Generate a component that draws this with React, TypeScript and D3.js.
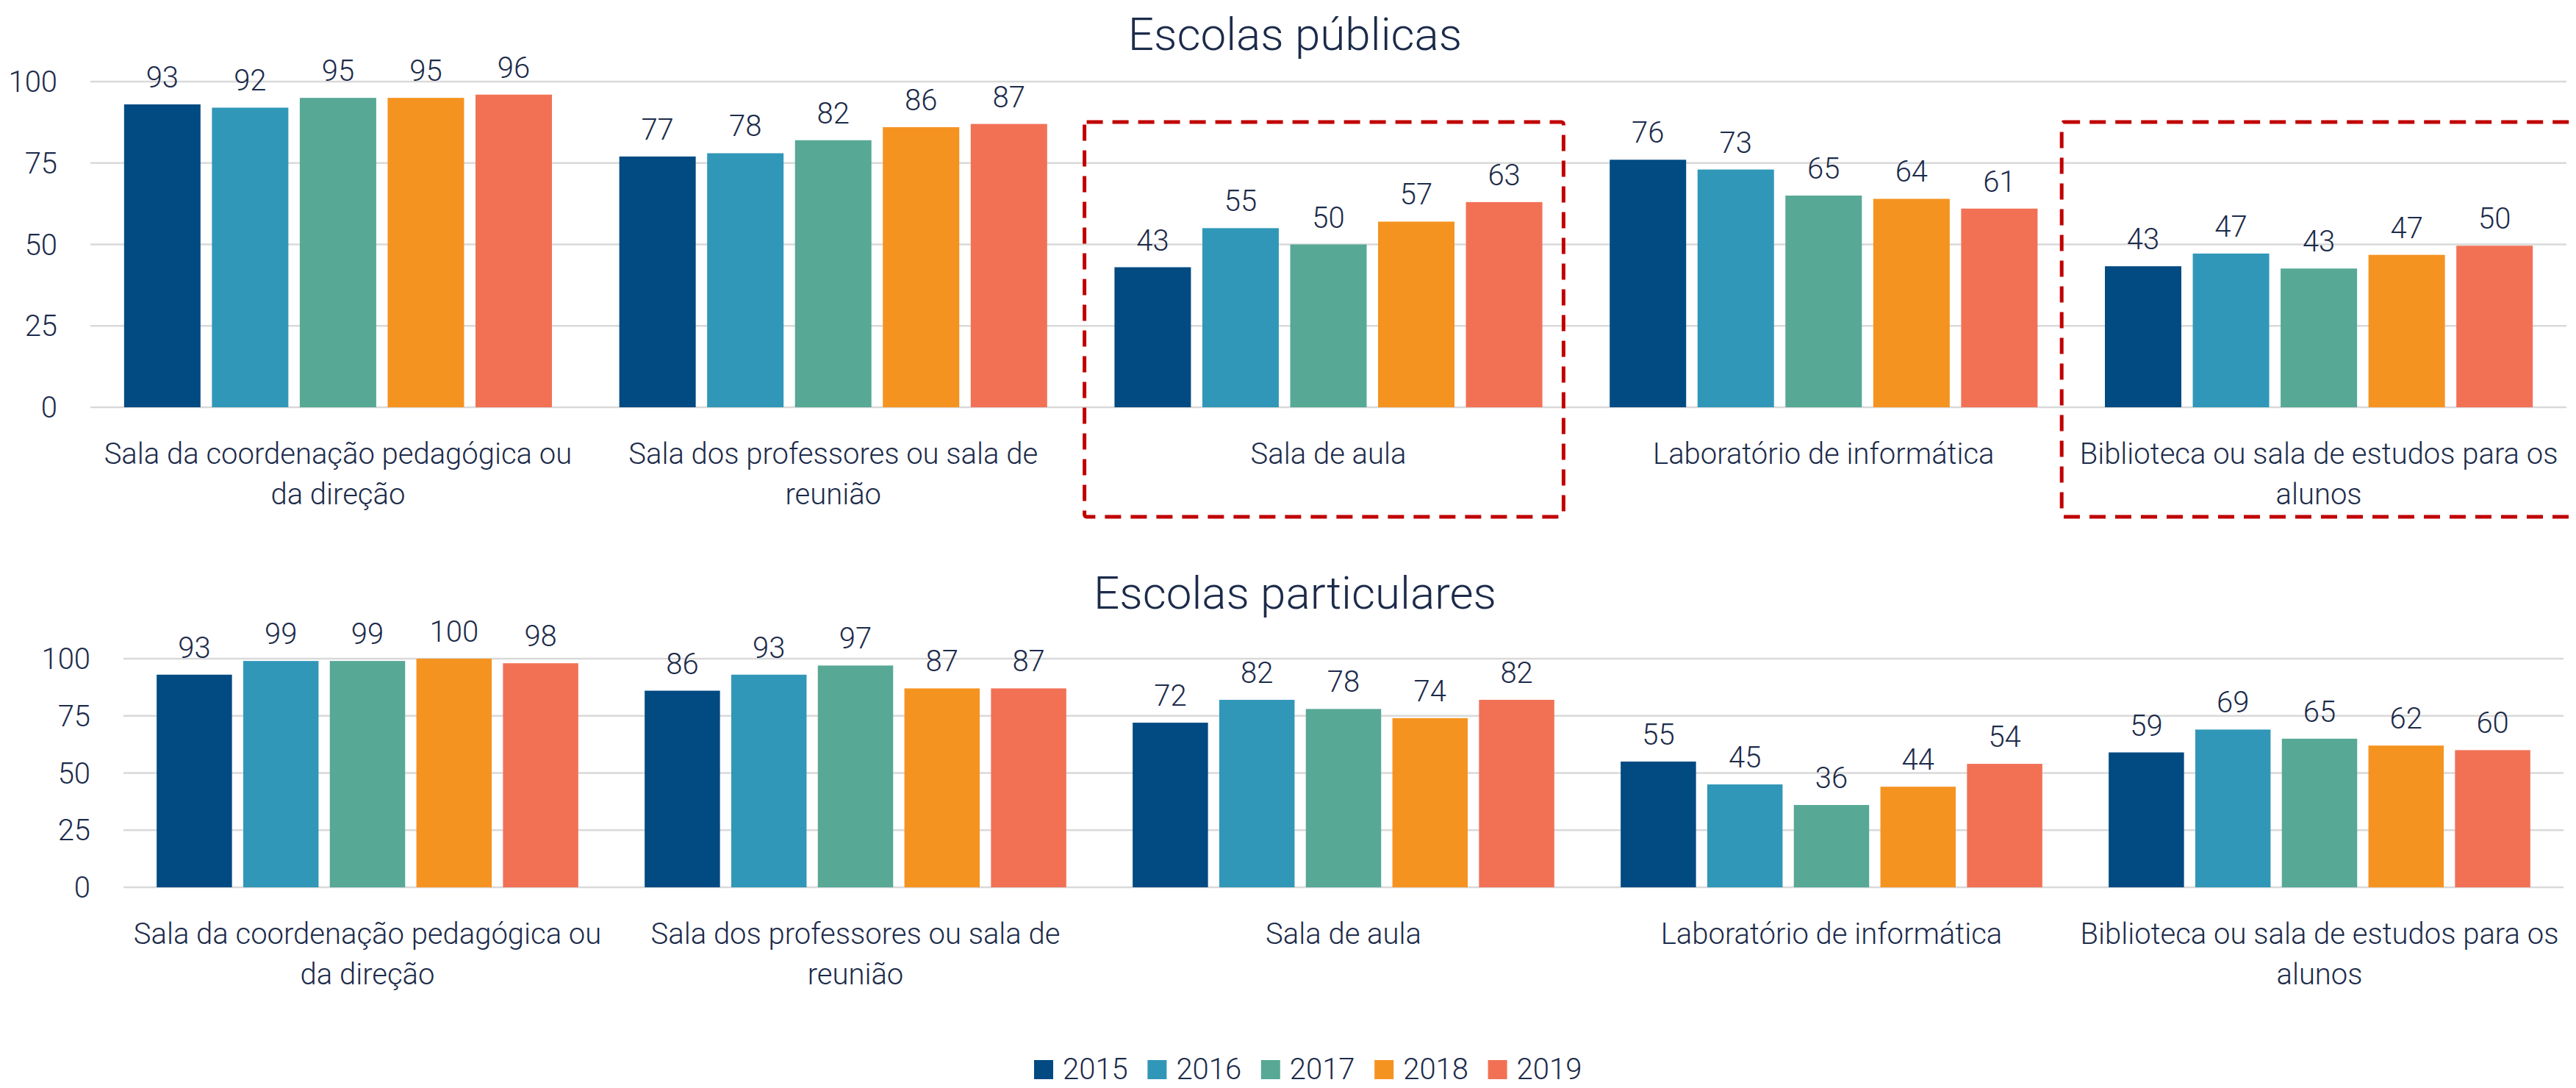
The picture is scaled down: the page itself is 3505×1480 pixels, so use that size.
import { useMemo } from "react";
import * as d3 from "d3";

const WIDTH = 3505;
const HEIGHT = 1480;
const FONT = "Roboto, 'Open Sans', sans-serif";
const TEXT_COLOR = "#1c2b4a";
const GRID_COLOR = "#d9d9d9";

const YEARS = ["2015", "2016", "2017", "2018", "2019"];
const YEAR_COLORS = ["#014a82", "#3197b8", "#57a895", "#f59320", "#f27155"];

const CATEGORIES = ["coord", "prof", "aula", "lab", "bib"];
const CATEGORY_LINES = [
    ["Sala da coordenação pedagógica ou", "da direção"],
    ["Sala dos professores ou sala de", "reunião"],
    ["Sala de aula"],
    ["Laboratório de informática"],
    ["Biblioteca ou sala de estudos para os", "alunos"],
];

// one row per category, one value per year
const PUBLICAS = [
    [93, 92, 95, 95, 96],
    [77, 78, 82, 86, 87],
    [43, 55, 50, 57, 63],
    [76, 73, 65, 64, 61],
    [43.3, 47.2, 42.6, 46.8, 49.6],
];
const PARTICULARES = [
    [93, 99, 99, 100, 98],
    [86, 93, 97, 87, 87],
    [72, 82, 78, 74, 82],
    [55, 45, 36, 44, 54],
    [59, 69, 65, 62, 60],
];

const Y_TICKS = [0, 25, 50, 75, 100];

// red dashed boxes on the first panel
const HIGHLIGHTS = [
    { cat: "aula", dx0: 5, dx1: -17 },
    { cat: "bib", dx0: -13, dx1: 40 },
];

type PanelProps = {
    title: string;
    titleY: number;
    values: number[][];
    left: number;
    right: number;
    yTop: number;
    yBottom: number;
    highlight?: boolean;
};

const Panel = ({ title, titleY, values, left, right, yTop, yBottom, highlight }: PanelProps) => {
    const x0 = useMemo(
        () => d3.scaleBand().domain(CATEGORIES).range([left, right]).padding(0),
        [left, right]
    );
    const outer = x0.bandwidth() * 0.068;
    const x1 = useMemo(
        () =>
            d3.scaleBand()
                .domain(YEARS)
                .range([outer, x0.bandwidth() - outer])
                .paddingInner(0.13),
        [x0, outer]
    );
    const y = useMemo(() => d3.scaleLinear().domain([0, 100]).range([yBottom, yTop]), [yTop, yBottom]);
    const fmt = d3.format(".0f");

    // box spans from above the plot down past the category labels
    const boxTop = yTop + 55;
    const boxBottom = yBottom + 149;

    return (
        <g>
            <text
                x={1762}
                y={titleY}
                textAnchor="middle"
                fontSize={62}
                fontWeight={300}
                fill={TEXT_COLOR}
            >
                {title}
            </text>
            {/* gridlines + y ticks */}
            {Y_TICKS.map((t) => (
                <g key={t}>
                    <line x1={left} x2={right} y1={y(t)} y2={y(t)} stroke={GRID_COLOR} strokeWidth={2.5} />
                    <text
                        x={left - 45}
                        y={y(t) + 14}
                        textAnchor="end"
                        fontSize={40}
                        fontWeight={300}
                        fill={TEXT_COLOR}
                    >
                        {t}
                    </text>
                </g>
            ))}
            {/* bars */}
            {CATEGORIES.map((c, ci) => (
                <g key={c} transform={`translate(${x0(c)},0)`}>
                    {YEARS.map((yr, yi) => {
                        const v = values[ci][yi];
                        return (
                            <g key={yr}>
                                <rect
                                    x={x1(yr)}
                                    y={y(v)}
                                    width={x1.bandwidth()}
                                    height={y(0) - y(v)}
                                    fill={YEAR_COLORS[yi]}
                                />
                                <text
                                    x={(x1(yr) ?? 0) + x1.bandwidth() / 2}
                                    y={y(v) - 23}
                                    textAnchor="middle"
                                    fontSize={40}
                                    fontWeight={300}
                                    fill={TEXT_COLOR}
                                >
                                    {fmt(v)}
                                </text>
                            </g>
                        );
                    })}
                    {CATEGORY_LINES[ci].map((line, li) => (
                        <text
                            key={li}
                            x={x0.bandwidth() / 2}
                            y={yBottom + 77 + li * 55}
                            textAnchor="middle"
                            fontSize={40}
                            fontWeight={300}
                            fill={TEXT_COLOR}
                        >
                            {line}
                        </text>
                    ))}
                </g>
            ))}
            {highlight &&
                HIGHLIGHTS.map((h) => {
                    const bx = (x0(h.cat) ?? 0) + h.dx0;
                    const bw = x0.bandwidth() - h.dx0 + h.dx1;
                    return (
                        <rect
                            key={h.cat}
                            x={bx}
                            y={boxTop}
                            width={bw}
                            height={boxBottom - boxTop}
                            fill="none"
                            stroke="#c00000"
                            strokeWidth={5}
                            strokeDasharray="22 13"
                            rx={3}
                        />
                    );
                })}
        </g>
    );
};

const Legend = () => {
    const step = 154.4;
    const start = 1407;
    return (
        <g>
            {YEARS.map((yr, i) => (
                <g key={yr} transform={`translate(${start + i * step},1442)`}>
                    <rect width={26} height={26} fill={YEAR_COLORS[i]} />
                    <text x={39} y={26} fontSize={40} fontWeight={300} fill={TEXT_COLOR}>
                        {yr}
                    </text>
                </g>
            ))}
        </g>
    );
};

const App = () => {
    return (
        <svg
            width={WIDTH}
            height={HEIGHT}
            style={{ position: "absolute", left: 0, top: 0, background: "white" }}
            fontFamily={FONT}
        >
            <Panel
                title="Escolas públicas"
                titleY={68}
                values={PUBLICAS}
                left={123}
                right={3492}
                yTop={111}
                yBottom={554}
                highlight
            />
            <Panel
                title="Escolas particulares"
                titleY={828}
                values={PARTICULARES}
                left={168}
                right={3488}
                yTop={896}
                yBottom={1207}
            />
            <Legend />
        </svg>
    );
};

export default App;
